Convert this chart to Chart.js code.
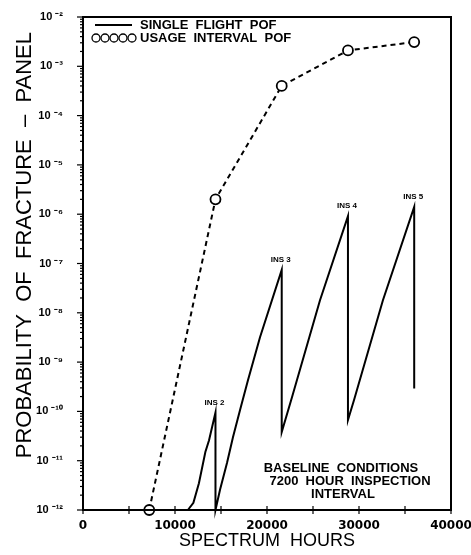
<!DOCTYPE html>
<html><head><meta charset="utf-8">
<script src="https://cdn.jsdelivr.net/npm/chart.js@4/dist/chart.umd.min.js"></script>
<style>html,body{margin:0;padding:0;background:#fff}canvas{display:block}</style>
</head><body>
<canvas id="c" width="471" height="555"></canvas>
<script>
// Single flight POF (solid sawtooth)
const sfHours = [11400, 12000, 12600, 13300, 13700, 14400, 14400, 14900, 15650, 16300, 17070, 17930, 19240, 21600, 21600, 22700, 25760, 28800, 28800, 29460, 32600, 36000, 36000];
const sfPof   = [1e-12, 1.4e-12, 3.5e-12, 1.5e-11, 2.6e-11, 9.5e-11, 1e-12, 2.6e-12, 9e-12, 3e-11, 1.07e-10, 4.3e-10, 3.2e-9, 7.4e-8, 3.8e-11, 1.9e-10, 1.8e-8, 9.1e-7, 6.7e-11, 1.7e-10, 1.8e-8, 1.4e-6, 2.9e-10];
// Usage interval POF (circles, dashed)
const uiHours = [7200, 14400, 21600, 28800, 36000];
const uiPof   = [1e-12, 2e-6, 4e-4, 2.1e-3, 3.1e-3];
// Axis ticks
const yExponents = [-12, -11, -10, -9, -8, -7, -6, -5, -4, -3, -2];
const xTickValues = [0, 10000, 20000, 30000, 40000];
// Peak labels
const insLabels = ['INS 2', 'INS 3', 'INS 4', 'INS 5'];
const insHours  = [14400, 21600, 28800, 36000];
const insPof    = [9.5e-11, 7.4e-8, 9.1e-7, 1.4e-6];
// Legend and note text
const legendLabels = ['SINGLE  FLIGHT  POF', 'USAGE  INTERVAL  POF'];
const noteLines = ['BASELINE  CONDITIONS', '7200  HOUR  INSPECTION', 'INTERVAL'];
const yTitle = '      PROBABILITY  OF  FRACTURE  \u2013  PANEL';
const xTitle = 'SPECTRUM  HOURS';

const SUP = {'-':'\u207B','0':'\u2070','1':'\u00B9','2':'\u00B2','3':'\u00B3','4':'\u2074','5':'\u2075','6':'\u2076','7':'\u2077','8':'\u2078','9':'\u2079'};
const supStr = s => String(s).split('').map(c => SUP[c] || c).join('');

const sfData = sfHours.map((h, i) => ({x: h, y: sfPof[i]}));
const uiData = uiHours.map((h, i) => ({x: h, y: uiPof[i]}));

const decor = {
  id: 'decor',
  afterDraw(chart) {
    const ctx = chart.ctx;
    const xs = chart.scales.x, ys = chart.scales.y;
    const a = chart.chartArea;
    ctx.save();
    ctx.strokeStyle = '#000';
    ctx.fillStyle = '#000';
    // frame
    ctx.lineWidth = 2;
    ctx.strokeRect(a.left, a.top, a.right - a.left, a.bottom - a.top);
    // y ticks (major + minor)
    ctx.lineWidth = 1.2;
    yExponents.forEach(e => {
      const yy = ys.getPixelForValue(Math.pow(10, e));
      ctx.beginPath(); ctx.moveTo(a.left - 6, yy); ctx.lineTo(a.left, yy); ctx.stroke();
      if (e < -2) {
        for (let m = 2; m <= 9; m++) {
          const ym = ys.getPixelForValue(m * Math.pow(10, e));
          ctx.beginPath(); ctx.moveTo(a.left - 3, ym); ctx.lineTo(a.left, ym); ctx.stroke();
        }
      }
    });
    // x ticks
    for (let v = 0; v <= 40000; v += 5000) {
      const xx = xs.getPixelForValue(v);
      ctx.beginPath(); ctx.moveTo(xx, a.bottom - 4); ctx.lineTo(xx, a.bottom + 4); ctx.stroke();
    }
    // INS labels
    ctx.font = 'bold 8px "Liberation Sans", Arial, sans-serif';
    ctx.textAlign = 'center';
    ctx.textBaseline = 'middle';
    insLabels.forEach((t, i) => {
      const px = xs.getPixelForValue(insHours[i]);
      const py = ys.getPixelForValue(insPof[i]);
      ctx.fillText(t, px - 1, py - 10);
    });
    // legend
    ctx.font = 'bold 13px "Liberation Sans", Arial, sans-serif';
    ctx.textAlign = 'left';
    ctx.lineWidth = 2;
    ctx.beginPath(); ctx.moveTo(95, 25); ctx.lineTo(132, 25); ctx.stroke();
    ctx.fillText(legendLabels[0], 140, 25);
    ctx.lineWidth = 1.3;
    for (let k = 0; k < 5; k++) {
      ctx.beginPath(); ctx.arc(96 + k * 9, 38, 4, 0, Math.PI * 2); ctx.stroke();
    }
    ctx.fillText(legendLabels[1], 140, 38);
    // note
    ctx.textAlign = 'center';
    ctx.fillText(noteLines[0], 341, 468);
    ctx.fillText(noteLines[1], 350, 481);
    ctx.fillText(noteLines[2], 343, 494);
    ctx.restore();
  }
};

new Chart(document.getElementById('c'), {
  type: 'line',
  data: {
    datasets: [
      {
        label: 'SINGLE FLIGHT POF',
        data: sfData,
        borderColor: '#000',
        borderWidth: 2,
        pointRadius: 0,
        tension: 0,
        fill: false,
        clip: false
      },
      {
        label: 'USAGE INTERVAL POF',
        data: uiData,
        borderColor: '#000',
        borderWidth: 2,
        borderDash: [5, 4],
        pointRadius: 5,
        pointBorderWidth: 1.8,
        pointBorderColor: '#000',
        pointBackgroundColor: '#fff',
        tension: 0,
        fill: false,
        clip: false
      }
    ]
  },
  options: {
    responsive: false,
    animation: false,
    layout: {padding: {top: 17, right: 20, left: 0, bottom: 0}},
    plugins: {legend: {display: false}, tooltip: {enabled: false}},
    scales: {
      x: {
        type: 'linear',
        min: 0, max: 40000,
        afterFit: s => { s.height = 45; s.paddingLeft = 0; s.paddingRight = 0; },
        afterBuildTicks: s => { s.ticks = xTickValues.map(v => ({value: v})); },
        grid: {display: false, drawTicks: false},
        border: {display: false},
        ticks: {
          color: '#000',
          padding: 9,
          maxRotation: 0,
          font: {family: '"DejaVu Sans", sans-serif', weight: 'bold', size: 12},
          callback: v => String(v)
        },
        title: {
          display: true,
          text: xTitle,
          color: '#000',
          padding: {top: 0, bottom: 3},
          font: {family: '"Liberation Sans", Arial, sans-serif', size: 18}
        }
      },
      y: {
        type: 'logarithmic',
        min: 1e-12, max: 1e-2,
        afterFit: s => { s.width = 83; s.paddingTop = 0; s.paddingBottom = 0; },
        afterBuildTicks: s => { s.ticks = yExponents.map(e => ({value: Math.pow(10, e)})); },
        grid: {display: false, drawTicks: false},
        border: {display: false},
        ticks: {
          color: '#000',
          padding: 20,
          font: {family: '"Liberation Sans", Arial, sans-serif', weight: 'bold', size: 11},
          callback: v => '10 ' + supStr(Math.round(Math.log10(v)))
        },
        title: {
          display: true,
          text: yTitle,
          color: '#000',
          padding: {top: 12, bottom: 0},
          font: {family: '"Liberation Sans", Arial, sans-serif', size: 22}
        }
      }
    }
  },
  plugins: [decor]
});
</script>
</body></html>
